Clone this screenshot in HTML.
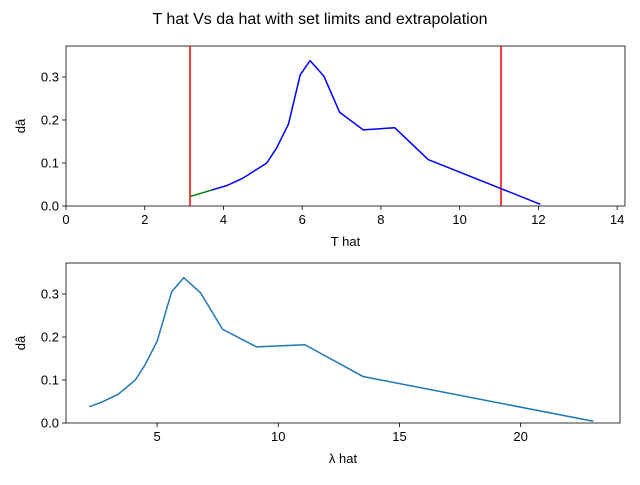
<!DOCTYPE html>
<html><head><meta charset="utf-8"><style>
body{margin:0;background:#fff;}
svg{font-family:"Liberation Sans","DejaVu Sans",sans-serif;}
</style></head><body>
<svg id="c" width="640" height="480" xmlns="http://www.w3.org/2000/svg">
<rect width="640" height="480" fill="#fff"/>
<text x="320" y="24" text-anchor="middle" font-size="16">T hat Vs da hat with set limits and extrapolation</text>
</svg>
<script>
const topT=[3.7,4.1,4.5,5.1,5.35,5.65,5.95,6.2,6.55,6.95,7.55,8.35,9.2,12.05];
const topDa=[0.037,0.048,0.065,0.1,0.135,0.19,0.305,0.338,0.302,0.218,0.177,0.182,0.108,0.004];
const extT=[3.15,3.7];
const extDa=[0.022,0.037];
const limits=[3.15,11.05];
const botL=[2.2,2.7,3.4,4.1,4.5,5.0,5.6,6.1,6.8,7.7,9.1,11.1,13.5,23.0];
const botDa=[0.038,0.048,0.067,0.1,0.135,0.19,0.305,0.338,0.302,0.218,0.177,0.182,0.108,0.004];
const topXTicks=[0,2,4,6,8,10,12,14];
const botXTicks=[5,10,15,20];
const yTicks=[0,0.1,0.2,0.3];
const yTickLabels=["0.0","0.1","0.2","0.3"];
const svg=document.getElementById('c');
const NS='http://www.w3.org/2000/svg';
function mk(tag,a,p){const e=document.createElementNS(NS,tag);for(const k in a)e.setAttribute(k,a[k]);(p||svg).appendChild(e);return e;}
function panel(o){
  const L=66,R=o.R,T=o.T,B=o.T+160;
  const sx=v=>L+(v-o.x0)/(o.x1-o.x0)*(R-L);
  const sy=v=>B-(v-0)/(0.372)*(B-T);
  const g=mk('g',{});
  
  
  mk('rect',{x:L,y:T,width:R-L,height:B-T,fill:'none',stroke:'#000','stroke-width':0.8},g);
  o.xt.forEach(v=>{const x=sx(v);mk('line',{x1:x,x2:x,y1:B,y2:B+4,stroke:'#000','stroke-width':0.8},g);
    const t=mk('text',{x:x,y:B+18,'text-anchor':'middle','font-size':13},g);t.textContent=String(v);
    });
  yTicks.forEach((v,i)=>{const y=sy(v);mk('line',{x1:L-4,x2:L,y1:y,y2:y,stroke:'#000','stroke-width':0.8},g);
    const t=mk('text',{x:L-7,y:y+4.5,'text-anchor':'end','font-size':13},g);t.textContent=yTickLabels[i];
    });
  const xl=mk('text',{x:(L+R)/2,y:B+40,'text-anchor':'middle','font-size':13},g);xl.textContent=o.xlabel;
  
  const yl=mk('text',{x:0,y:0,'text-anchor':'middle','font-size':13,transform:`translate(25,${(T+B)/2}) rotate(-90)`},g);yl.textContent='dâ';
  
  const line=(xs,ys,c,n)=>{const p=mk('polyline',{points:xs.map((x,i)=>sx(x)+','+sy(ys[i])).join(' '),fill:'none',stroke:c,'stroke-width':1.5,'stroke-linejoin':'round'},g);
    };
  return {sx,sy,g,line,T,B};
}
const p1=panel({name:'top-panel',R:625,T:46,x0:0,x1:14.2,xt:topXTicks,xlabel:'T hat'});
limits.forEach(v=>{const l=mk('line',{x1:p1.sx(v),x2:p1.sx(v),y1:p1.T,y2:p1.B,stroke:'#ff0000','stroke-width':1.5},p1.g);
  });
p1.line(extT,extDa,'#008000','extrapolation-line');
p1.line(topT,topDa,'#0000ff','data-line');
const p2=panel({name:'bottom-panel',R:620,T:263,x0:1.24,x1:24.1,xt:botXTicks,xlabel:'λ hat'});
p2.line(botL,botDa,'#1f77b4','lambda-line');
</script>
</body></html>
